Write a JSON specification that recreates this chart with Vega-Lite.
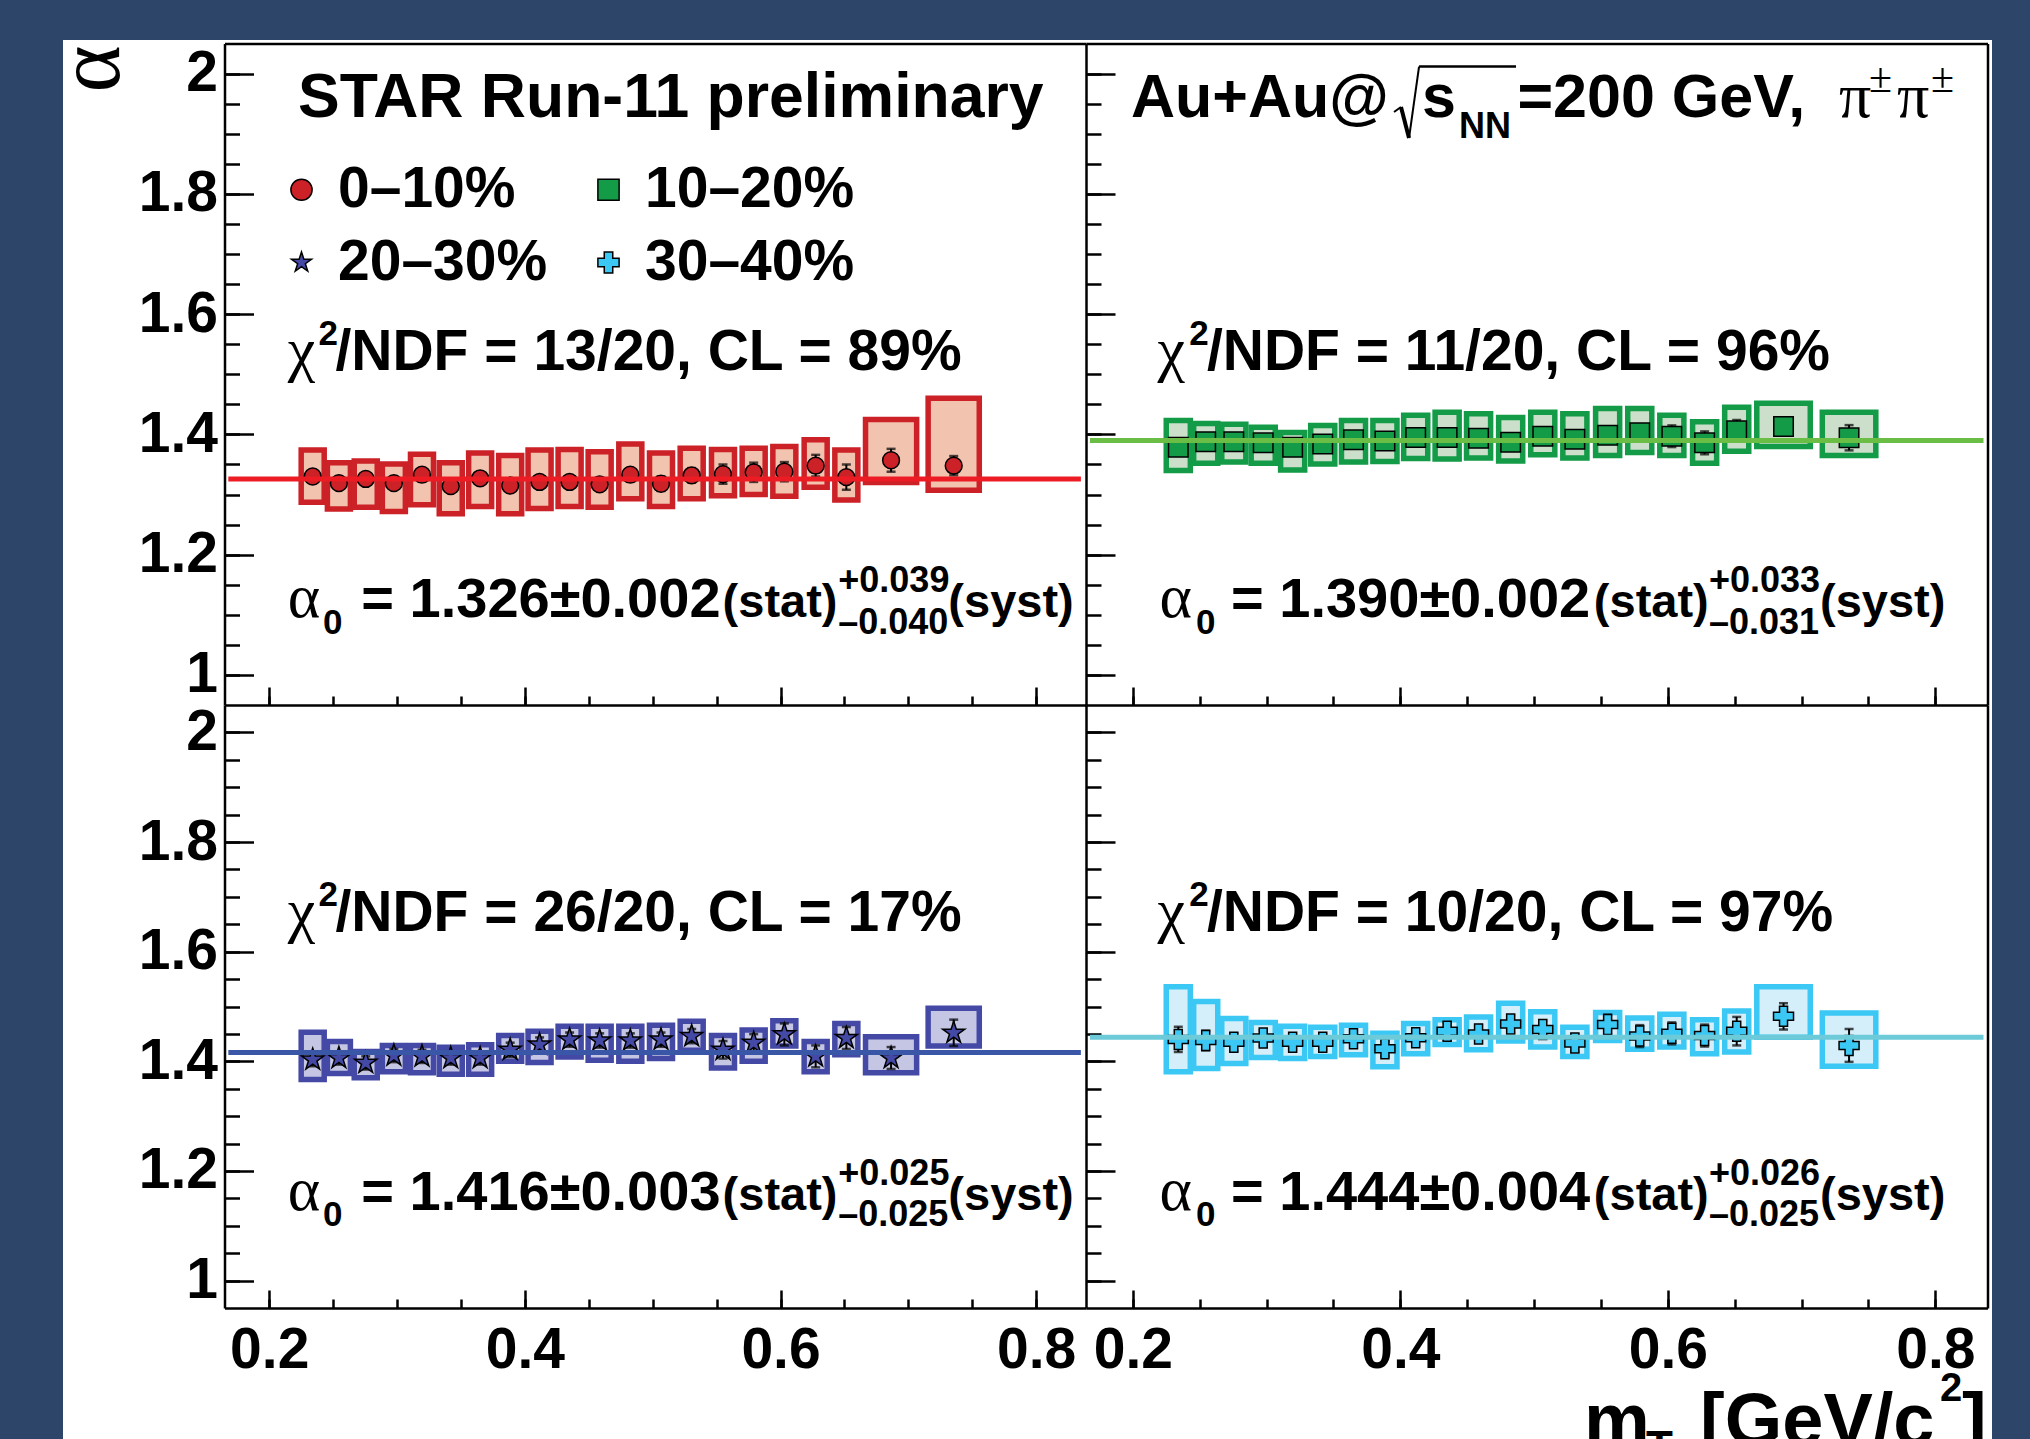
{
"$schema": "https://vega.github.io/schema/vega-lite/v6.json",
"width": 1929, "height": 1399,
"autosize": {"type": "none"},
"padding": {"left": 63, "top": 40, "right": 38, "bottom": 0},
"background": "#2C4568",
"config": {
  "view": {"fill": "white", "stroke": null},
  "axis": {"domainColor": "black", "domainWidth": 2.5, "tickColor": "black", "tickWidth": 2.5, "labelFont": "Liberation Sans", "labelFontWeight": "bold", "labelFontSize": 57, "labelColor": "black", "grid": false, "labelFlush": false, "labelOverlap": false, "labelBound": false},
  "text": {"font": "Liberation Sans", "fontWeight": "bold", "color": "black", "align": "left", "baseline": "alphabetic"}
},
"datasets": {
  "p1": [
    {"c":"0–10%","m":0.234,"l":0.225,"h":0.243,"a":1.330,"lo":1.287,"hi":1.374,"e":0.01},
    {"c":"0–10%","m":0.2545,"l":0.2455,"h":0.2635,"a":1.319,"lo":1.276,"hi":1.353,"e":0.01},
    {"c":"0–10%","m":0.2755,"l":0.2665,"h":0.2845,"a":1.326,"lo":1.279,"hi":1.356,"e":0.01},
    {"c":"0–10%","m":0.2975,"l":0.2885,"h":0.3065,"a":1.319,"lo":1.272,"hi":1.351,"e":0.01},
    {"c":"0–10%","m":0.3195,"l":0.3105,"h":0.3285,"a":1.333,"lo":1.283,"hi":1.367,"e":0.01},
    {"c":"0–10%","m":0.342,"l":0.333,"h":0.351,"a":1.314,"lo":1.268,"hi":1.353,"e":0.01},
    {"c":"0–10%","m":0.365,"l":0.356,"h":0.374,"a":1.327,"lo":1.280,"hi":1.369,"e":0.01},
    {"c":"0–10%","m":0.3885,"l":0.3795,"h":0.3975,"a":1.315,"lo":1.268,"hi":1.365,"e":0.01},
    {"c":"0–10%","m":0.4115,"l":0.4025,"h":0.4205,"a":1.321,"lo":1.277,"hi":1.374,"e":0.01},
    {"c":"0–10%","m":0.435,"l":0.426,"h":0.444,"a":1.321,"lo":1.280,"hi":1.375,"e":0.01},
    {"c":"0–10%","m":0.4585,"l":0.4495,"h":0.4675,"a":1.317,"lo":1.279,"hi":1.371,"e":0.01},
    {"c":"0–10%","m":0.4825,"l":0.4735,"h":0.4915,"a":1.333,"lo":1.293,"hi":1.384,"e":0.01},
    {"c":"0–10%","m":0.5065,"l":0.4975,"h":0.5155,"a":1.318,"lo":1.280,"hi":1.369,"e":0.012},
    {"c":"0–10%","m":0.5305,"l":0.5215,"h":0.5395,"a":1.332,"lo":1.293,"hi":1.377,"e":0.012},
    {"c":"0–10%","m":0.555,"l":0.546,"h":0.564,"a":1.334,"lo":1.298,"hi":1.375,"e":0.016},
    {"c":"0–10%","m":0.579,"l":0.570,"h":0.588,"a":1.337,"lo":1.300,"hi":1.377,"e":0.016},
    {"c":"0–10%","m":0.603,"l":0.594,"h":0.612,"a":1.338,"lo":1.297,"hi":1.380,"e":0.016},
    {"c":"0–10%","m":0.6275,"l":0.6185,"h":0.6365,"a":1.348,"lo":1.312,"hi":1.391,"e":0.018},
    {"c":"0–10%","m":0.6515,"l":0.6425,"h":0.6605,"a":1.329,"lo":1.291,"hi":1.374,"e":0.021},
    {"c":"0–10%","m":0.6865,"l":0.6665,"h":0.7065,"a":1.357,"lo":1.320,"hi":1.425,"e":0.019},
    {"c":"0–10%","m":0.7355,"l":0.7155,"h":0.7555,"a":1.348,"lo":1.307,"hi":1.460,"e":0.016}
  ],
  "p2": [
    {"c":"10–20%","m":0.234,"l":0.225,"h":0.243,"a":1.3785,"lo":1.340,"hi":1.423,"e":0.01},
    {"c":"10–20%","m":0.2545,"l":0.2455,"h":0.2635,"a":1.388,"lo":1.352,"hi":1.418,"e":0.01},
    {"c":"10–20%","m":0.2755,"l":0.2665,"h":0.2845,"a":1.388,"lo":1.354,"hi":1.417,"e":0.01},
    {"c":"10–20%","m":0.2975,"l":0.2885,"h":0.3065,"a":1.386,"lo":1.352,"hi":1.412,"e":0.01},
    {"c":"10–20%","m":0.3195,"l":0.3105,"h":0.3285,"a":1.3785,"lo":1.341,"hi":1.403,"e":0.01},
    {"c":"10–20%","m":0.342,"l":0.333,"h":0.351,"a":1.384,"lo":1.351,"hi":1.415,"e":0.01},
    {"c":"10–20%","m":0.365,"l":0.356,"h":0.374,"a":1.391,"lo":1.354,"hi":1.423,"e":0.01},
    {"c":"10–20%","m":0.3885,"l":0.3795,"h":0.3975,"a":1.389,"lo":1.355,"hi":1.423,"e":0.01},
    {"c":"10–20%","m":0.4115,"l":0.4025,"h":0.4205,"a":1.395,"lo":1.360,"hi":1.432,"e":0.01},
    {"c":"10–20%","m":0.435,"l":0.426,"h":0.444,"a":1.395,"lo":1.359,"hi":1.437,"e":0.01},
    {"c":"10–20%","m":0.4585,"l":0.4495,"h":0.4675,"a":1.3935,"lo":1.361,"hi":1.4345,"e":0.01},
    {"c":"10–20%","m":0.4825,"l":0.4735,"h":0.4915,"a":1.387,"lo":1.356,"hi":1.428,"e":0.01},
    {"c":"10–20%","m":0.5065,"l":0.4975,"h":0.5155,"a":1.397,"lo":1.366,"hi":1.437,"e":0.01},
    {"c":"10–20%","m":0.5305,"l":0.5215,"h":0.5395,"a":1.392,"lo":1.361,"hi":1.4345,"e":0.01},
    {"c":"10–20%","m":0.555,"l":0.546,"h":0.564,"a":1.3985,"lo":1.365,"hi":1.443,"e":0.012},
    {"c":"10–20%","m":0.579,"l":0.570,"h":0.588,"a":1.403,"lo":1.370,"hi":1.443,"e":0.012},
    {"c":"10–20%","m":0.603,"l":0.594,"h":0.612,"a":1.397,"lo":1.365,"hi":1.432,"e":0.018},
    {"c":"10–20%","m":0.6275,"l":0.6185,"h":0.6365,"a":1.386,"lo":1.352,"hi":1.421,"e":0.019},
    {"c":"10–20%","m":0.6515,"l":0.6425,"h":0.6605,"a":1.406,"lo":1.372,"hi":1.445,"e":0.018},
    {"c":"10–20%","m":0.6865,"l":0.6665,"h":0.7065,"a":1.413,"lo":1.380,"hi":1.452,"e":0.012},
    {"c":"10–20%","m":0.7355,"l":0.7155,"h":0.7555,"a":1.3945,"lo":1.365,"hi":1.437,"e":0.021}
  ],
  "p3": [
    {"c":"20–30%","m":0.234,"l":0.225,"h":0.243,"a":1.403,"lo":1.367,"hi":1.453,"e":0.012},
    {"c":"20–30%","m":0.2545,"l":0.2455,"h":0.2635,"a":1.406,"lo":1.378,"hi":1.436,"e":0.012},
    {"c":"20–30%","m":0.2755,"l":0.2665,"h":0.2845,"a":1.397,"lo":1.370,"hi":1.418,"e":0.012},
    {"c":"20–30%","m":0.2975,"l":0.2885,"h":0.3065,"a":1.4105,"lo":1.381,"hi":1.429,"e":0.012},
    {"c":"20–30%","m":0.3195,"l":0.3105,"h":0.3285,"a":1.409,"lo":1.379,"hi":1.429,"e":0.012},
    {"c":"20–30%","m":0.342,"l":0.333,"h":0.351,"a":1.406,"lo":1.3765,"hi":1.4255,"e":0.012},
    {"c":"20–30%","m":0.365,"l":0.356,"h":0.374,"a":1.406,"lo":1.3765,"hi":1.430,"e":0.012},
    {"c":"20–30%","m":0.3885,"l":0.3795,"h":0.3975,"a":1.421,"lo":1.400,"hi":1.447,"e":0.013},
    {"c":"20–30%","m":0.4115,"l":0.4025,"h":0.4205,"a":1.4305,"lo":1.398,"hi":1.455,"e":0.013},
    {"c":"20–30%","m":0.435,"l":0.426,"h":0.444,"a":1.4395,"lo":1.408,"hi":1.464,"e":0.013},
    {"c":"20–30%","m":0.4585,"l":0.4495,"h":0.4675,"a":1.438,"lo":1.402,"hi":1.464,"e":0.013},
    {"c":"20–30%","m":0.4825,"l":0.4735,"h":0.4915,"a":1.438,"lo":1.400,"hi":1.464,"e":0.013},
    {"c":"20–30%","m":0.5065,"l":0.4975,"h":0.5155,"a":1.4395,"lo":1.405,"hi":1.466,"e":0.013},
    {"c":"20–30%","m":0.5305,"l":0.5215,"h":0.5395,"a":1.446,"lo":1.420,"hi":1.473,"e":0.013},
    {"c":"20–30%","m":0.555,"l":0.546,"h":0.564,"a":1.421,"lo":1.388,"hi":1.447,"e":0.016},
    {"c":"20–30%","m":0.579,"l":0.570,"h":0.588,"a":1.4335,"lo":1.400,"hi":1.457,"e":0.016},
    {"c":"20–30%","m":0.603,"l":0.594,"h":0.612,"a":1.449,"lo":1.428,"hi":1.474,"e":0.02},
    {"c":"20–30%","m":0.6275,"l":0.6185,"h":0.6365,"a":1.409,"lo":1.381,"hi":1.436,"e":0.02},
    {"c":"20–30%","m":0.6515,"l":0.6425,"h":0.6605,"a":1.4425,"lo":1.412,"hi":1.469,"e":0.02},
    {"c":"20–30%","m":0.6865,"l":0.6665,"h":0.7065,"a":1.406,"lo":1.379,"hi":1.445,"e":0.02},
    {"c":"20–30%","m":0.7355,"l":0.7155,"h":0.7555,"a":1.452,"lo":1.428,"hi":1.497,"e":0.024}
  ],
  "p4": [
    {"c":"30–40%","m":0.234,"l":0.225,"h":0.243,"a":1.440,"lo":1.381,"hi":1.536,"e":0.023},
    {"c":"30–40%","m":0.2545,"l":0.2455,"h":0.2635,"a":1.438,"lo":1.387,"hi":1.509,"e":0.018},
    {"c":"30–40%","m":0.2755,"l":0.2665,"h":0.2845,"a":1.435,"lo":1.396,"hi":1.478,"e":0.016},
    {"c":"30–40%","m":0.2975,"l":0.2885,"h":0.3065,"a":1.4425,"lo":1.407,"hi":1.471,"e":0.014},
    {"c":"30–40%","m":0.3195,"l":0.3105,"h":0.3285,"a":1.435,"lo":1.405,"hi":1.464,"e":0.014},
    {"c":"30–40%","m":0.342,"l":0.333,"h":0.351,"a":1.435,"lo":1.409,"hi":1.462,"e":0.014},
    {"c":"30–40%","m":0.365,"l":0.356,"h":0.374,"a":1.441,"lo":1.412,"hi":1.466,"e":0.014},
    {"c":"30–40%","m":0.3885,"l":0.3795,"h":0.3975,"a":1.423,"lo":1.390,"hi":1.451,"e":0.014},
    {"c":"30–40%","m":0.4115,"l":0.4025,"h":0.4205,"a":1.443,"lo":1.414,"hi":1.469,"e":0.014},
    {"c":"30–40%","m":0.435,"l":0.426,"h":0.444,"a":1.455,"lo":1.4305,"hi":1.476,"e":0.016},
    {"c":"30–40%","m":0.4585,"l":0.4495,"h":0.4675,"a":1.450,"lo":1.421,"hi":1.481,"e":0.016},
    {"c":"30–40%","m":0.4825,"l":0.4735,"h":0.4915,"a":1.468,"lo":1.437,"hi":1.506,"e":0.016},
    {"c":"30–40%","m":0.5065,"l":0.4975,"h":0.5155,"a":1.458,"lo":1.426,"hi":1.4905,"e":0.016},
    {"c":"30–40%","m":0.5305,"l":0.5215,"h":0.5395,"a":1.4335,"lo":1.409,"hi":1.462,"e":0.016},
    {"c":"30–40%","m":0.555,"l":0.546,"h":0.564,"a":1.467,"lo":1.438,"hi":1.489,"e":0.018},
    {"c":"30–40%","m":0.579,"l":0.570,"h":0.588,"a":1.446,"lo":1.422,"hi":1.479,"e":0.02},
    {"c":"30–40%","m":0.603,"l":0.594,"h":0.612,"a":1.451,"lo":1.426,"hi":1.486,"e":0.02},
    {"c":"30–40%","m":0.6275,"l":0.6185,"h":0.6365,"a":1.447,"lo":1.414,"hi":1.476,"e":0.02},
    {"c":"30–40%","m":0.6515,"l":0.6425,"h":0.6605,"a":1.455,"lo":1.417,"hi":1.492,"e":0.026},
    {"c":"30–40%","m":0.6865,"l":0.6665,"h":0.7065,"a":1.482,"lo":1.444,"hi":1.536,"e":0.024},
    {"c":"30–40%","m":0.7355,"l":0.7155,"h":0.7555,"a":1.429,"lo":1.391,"hi":1.488,"e":0.03}
  ],
  "f1": [{"c":"0–10%","alpha0":1.326,"chi":"/NDF = 13/20, CL = 89%","atxt":"= 1.326±0.002","sp":"+0.039","sm":"–0.040"}],
  "f2": [{"c":"10–20%","alpha0":1.390,"chi":"/NDF = 11/20, CL = 96%","atxt":"= 1.390±0.002","sp":"+0.033","sm":"–0.031"}],
  "f3": [{"c":"20–30%","alpha0":1.416,"chi":"/NDF = 26/20, CL = 17%","atxt":"= 1.416±0.003","sp":"+0.025","sm":"–0.025"}],
  "f4": [{"c":"30–40%","alpha0":1.444,"chi":"/NDF = 10/20, CL = 97%","atxt":"= 1.444±0.004","sp":"+0.026","sm":"–0.025"}]
},
"resolve": {"scale": {"x": "independent", "y": "independent"}, "axis": {"x": "independent", "y": "independent"}},
"layer": [
 {
  "resolve": {"axis": {"x": "independent", "y": "independent"}},
  "layer": [
   {"data": {"name": "p1"}, "mark": {"type": "rect", "fill": "#F2C3AE", "stroke": "#CB2127", "strokeWidth": 5.5},
    "encoding": {
     "x": {"field": "l", "type": "quantitative", "scale": {"domain": [0.165, 0.839], "range": [161.5, 1023], "nice": false, "zero": false},
           "axis": {"orient": "bottom", "offset": -734, "values": [0.2,0.4,0.6,0.8], "tickSize": -18, "labels": false, "title": null}},
     "x2": {"field": "h"},
     "y": {"field": "lo", "type": "quantitative", "scale": {"domain": [0.95, 2.05], "range": [665, 3.6], "nice": false, "zero": false},
           "axis": {"orient": "left", "offset": -161.5, "values": [1,1.2,1.4,1.6,1.8,2], "tickSize": -29, "labelPadding": 36, "format": "~g", "title": null}},
     "y2": {"field": "hi"}}},
   {"data": {"name": "p1"}, "mark": {"type": "errorbar", "color": "black", "thickness": 2, "ticks": {"size": 9, "thickness": 2.5}},
    "encoding": {"x": {"field": "m", "type": "quantitative", "axis": null}, "y": {"field": "a", "type": "quantitative", "axis": null}, "yError": {"field": "e"}}},
   {"data": {"name": "p1"}, "mark": {"type": "point", "filled": true, "size": 283, "stroke": "black", "strokeWidth": 1.5, "opacity": 1},
    "encoding": {
     "x": {"field": "m", "type": "quantitative", "axis": {"orient": "bottom", "offset": -734, "values": [0.2,0.25,0.3,0.35,0.4,0.45,0.5,0.55,0.6,0.65,0.7,0.75,0.8], "tickSize": -9, "labels": false, "domain": false, "title": null}},
     "y": {"field": "a", "type": "quantitative", "axis": {"orient": "left", "offset": -161.5, "values": [1,1.05,1.1,1.15,1.2,1.25,1.3,1.35,1.4,1.45,1.5,1.55,1.6,1.65,1.7,1.75,1.8,1.85,1.9,1.95,2], "tickSize": -15, "labels": false, "domain": false, "title": null}},
     "color": {"field": "c", "type": "nominal", "scale": {"domain": ["0–10%","10–20%","20–30%","30–40%"], "range": ["#CB2127","#139B48","#4549A6","#3CC8F4"]},
               "legend": {"title": null, "orient": "none", "direction": "horizontal", "legendX": 210, "legendY": 121, "columns": 2, "columnPadding": 32, "rowPadding": 15, "labelFontSize": 57, "labelFont": "Liberation Sans", "labelFontWeight": "bold", "labelColor": "black", "labelLimit": 500, "labelOffset": 8, "symbolSize": 450, "symbolStrokeColor": "black", "symbolStrokeWidth": 1.5, "symbolOpacity": 1}},
     "shape": {"field": "c", "type": "nominal", "scale": {"domain": ["0–10%","10–20%","20–30%","30–40%"], "range": ["circle","square","M0,-1L0.2245,-0.309L0.9511,-0.309L0.3633,0.118L0.5878,0.809L0,0.382L-0.5878,0.809L-0.3633,0.118L-0.9511,-0.309L-0.2245,-0.309Z","cross"]},
               "legend": {"title": null, "orient": "none", "direction": "horizontal", "legendX": 210, "legendY": 121, "columns": 2, "columnPadding": 32, "rowPadding": 15, "labelFontSize": 57, "labelFont": "Liberation Sans", "labelFontWeight": "bold", "labelColor": "black", "labelLimit": 500, "labelOffset": 8, "symbolSize": 450, "symbolStrokeColor": "black", "symbolStrokeWidth": 1.5, "symbolOpacity": 1}}}},
   {"data": {"name": "f1"}, "mark": {"type": "rule", "color": "#ED1C24", "strokeWidth": 5},
    "encoding": {"x": {"datum": 0.168, "type": "quantitative", "axis": {"orient": "top", "offset": -3.6, "ticks": false, "labels": false, "title": null}}, "x2": {"datum": 0.835}, "y": {"field": "alpha0", "type": "quantitative", "axis": null}}},
   {"data": {"name": "f1"}, "mark": {"type": "text", "text": "STAR Run-11 preliminary", "fontSize": 62.5},
    "encoding": {"x": {"datum": 0.2225, "type": "quantitative", "axis": null}, "y": {"datum": 1.9279, "type": "quantitative", "axis": null}}},
   {"data": {"name": "f1"}, "mark": {"type": "text", "text": "α", "font": "Liberation Serif", "fontWeight": "normal", "fontSize": 90, "angle": 270, "align": "center"},
    "encoding": {"x": {"datum": 0.0825, "type": "quantitative", "axis": null}, "y": {"datum": 2.0078, "type": "quantitative", "axis": null}}},
   {"data": {"name": "f1"}, "mark": {"type": "text", "text": "χ", "font": "Liberation Serif", "fontWeight": "normal", "fontSize": 62},
    "encoding": {"x": {"datum": 0.2144, "type": "quantitative", "axis": null}, "y": {"datum": 1.5078, "type": "quantitative", "axis": null}}},
   {"data": {"name": "f1"}, "mark": {"type": "text", "text": "2", "fontSize": 35},
    "encoding": {"x": {"datum": 0.2385, "type": "quantitative", "axis": null}, "y": {"datum": 1.5488, "type": "quantitative", "axis": null}}},
   {"data": {"name": "f1"}, "mark": {"type": "text", "fontSize": 57},
    "encoding": {"x": {"datum": 0.2518, "type": "quantitative", "axis": null}, "y": {"datum": 1.5078, "type": "quantitative", "axis": null}, "text": {"field": "chi"}}},
   {"data": {"name": "f1"}, "mark": {"type": "text", "text": "α", "font": "Liberation Serif", "fontWeight": "normal", "fontSize": 62},
    "encoding": {"x": {"datum": 0.2144, "type": "quantitative", "axis": null}, "y": {"datum": 1.0956, "type": "quantitative", "axis": null}}},
   {"data": {"name": "f1"}, "mark": {"type": "text", "text": "0", "fontSize": 35},
    "encoding": {"x": {"datum": 0.2421, "type": "quantitative", "axis": null}, "y": {"datum": 1.0688, "type": "quantitative", "axis": null}}},
   {"data": {"name": "f1"}, "mark": {"type": "text", "fontSize": 56},
    "encoding": {"x": {"datum": 0.2720, "type": "quantitative", "axis": null}, "y": {"datum": 1.0956, "type": "quantitative", "axis": null}, "text": {"field": "atxt"}}},
   {"data": {"name": "f1"}, "mark": {"type": "text", "text": "(stat)", "fontSize": 47},
    "encoding": {"x": {"datum": 0.5547, "type": "quantitative", "axis": null}, "y": {"datum": 1.0956, "type": "quantitative", "axis": null}}},
   {"data": {"name": "f1"}, "mark": {"type": "text", "fontSize": 36},
    "encoding": {"x": {"datum": 0.6452, "type": "quantitative", "axis": null}, "y": {"datum": 1.1375, "type": "quantitative", "axis": null}, "text": {"field": "sp"}}},
   {"data": {"name": "f1"}, "mark": {"type": "text", "fontSize": 36},
    "encoding": {"x": {"datum": 0.6452, "type": "quantitative", "axis": null}, "y": {"datum": 1.0688, "type": "quantitative", "axis": null}, "text": {"field": "sm"}}},
   {"data": {"name": "f1"}, "mark": {"type": "text", "text": "(syst)", "fontSize": 47},
    "encoding": {"x": {"datum": 0.7313, "type": "quantitative", "axis": null}, "y": {"datum": 1.0956, "type": "quantitative", "axis": null}}}
  ]
 },
 {
  "resolve": {"axis": {"x": "independent", "y": "independent"}},
  "layer": [
   {"data": {"name": "p2"}, "mark": {"type": "rect", "fill": "#CCDFCB", "stroke": "#139B48", "strokeWidth": 5.5},
    "encoding": {
     "x": {"field": "l", "type": "quantitative", "scale": {"domain": [0.165, 0.839], "range": [1023, 1924.5], "nice": false, "zero": false},
           "axis": {"orient": "bottom", "offset": -734, "values": [0.2,0.4,0.6,0.8], "tickSize": -18, "labels": false, "title": null}},
     "x2": {"field": "h"},
     "y": {"field": "lo", "type": "quantitative", "scale": {"domain": [0.95, 2.05], "range": [665, 3.6], "nice": false, "zero": false},
           "axis": {"orient": "left", "offset": -1023, "values": [1,1.2,1.4,1.6,1.8,2], "tickSize": -29, "labels": false, "title": null}},
     "y2": {"field": "hi"}}},
   {"data": {"name": "p2"}, "mark": {"type": "errorbar", "color": "black", "thickness": 2, "ticks": {"size": 9, "thickness": 2.5}},
    "encoding": {"x": {"field": "m", "type": "quantitative", "axis": null}, "y": {"field": "a", "type": "quantitative", "axis": null}, "yError": {"field": "e"}}},
   {"data": {"name": "p2"}, "mark": {"type": "point", "filled": true, "size": 380, "stroke": "black", "strokeWidth": 1.5, "opacity": 1},
    "encoding": {
     "x": {"field": "m", "type": "quantitative", "axis": {"orient": "bottom", "offset": -734, "values": [0.2,0.25,0.3,0.35,0.4,0.45,0.5,0.55,0.6,0.65,0.7,0.75,0.8], "tickSize": -9, "labels": false, "domain": false, "title": null}},
     "y": {"field": "a", "type": "quantitative", "axis": {"orient": "left", "offset": -1023, "values": [1,1.05,1.1,1.15,1.2,1.25,1.3,1.35,1.4,1.45,1.5,1.55,1.6,1.65,1.7,1.75,1.8,1.85,1.9,1.95,2], "tickSize": -15, "labels": false, "domain": false, "title": null}},
     "color": {"field": "c", "type": "nominal", "scale": {"domain": ["0–10%","10–20%","20–30%","30–40%"], "range": ["#CB2127","#139B48","#4549A6","#3CC8F4"]}},
     "shape": {"field": "c", "type": "nominal", "scale": {"domain": ["0–10%","10–20%","20–30%","30–40%"], "range": ["circle","square","M0,-1L0.2245,-0.309L0.9511,-0.309L0.3633,0.118L0.5878,0.809L0,0.382L-0.5878,0.809L-0.3633,0.118L-0.9511,-0.309L-0.2245,-0.309Z","cross"]}}}},
   {"data": {"name": "f2"}, "mark": {"type": "rule", "color": "#6ABD45", "strokeWidth": 5},
    "encoding": {"x": {"datum": 0.168, "type": "quantitative", "axis": {"orient": "top", "offset": -3.6, "ticks": false, "labels": false, "title": null}}, "x2": {"datum": 0.836},
                 "y": {"field": "alpha0", "type": "quantitative", "axis": {"orient": "right", "offset": -4.5, "ticks": false, "labels": false, "title": null}}}},
   {"data": {"name": "f2"}, "mark": {"type": "text", "text": "Au+Au@", "fontSize": 61},
    "encoding": {"x": {"datum": 0.1986, "type": "quantitative", "axis": null}, "y": {"datum": 1.9279, "type": "quantitative", "axis": null}}},
   {"data": {"name": "f2"}, "mark": {"type": "rule", "color": "black", "strokeWidth": 2},
    "encoding": {"x": {"datum": 0.3953, "type": "quantitative", "axis": null}, "x2": {"datum": 0.4005}, "y": {"datum": 1.9362, "type": "quantitative", "axis": null}, "y2": {"datum": 1.9446}}},
   {"data": {"name": "f2"}, "mark": {"type": "rule", "color": "black", "strokeWidth": 4},
    "encoding": {"x": {"datum": 0.4005, "type": "quantitative", "axis": null}, "x2": {"datum": 0.4065}, "y": {"datum": 1.9446, "type": "quantitative", "axis": null}, "y2": {"datum": 1.893}}},
   {"data": {"name": "f2"}, "mark": {"type": "rule", "color": "black", "strokeWidth": 2},
    "encoding": {"x": {"datum": 0.4065, "type": "quantitative", "axis": null}, "x2": {"datum": 0.414}, "y": {"datum": 1.893, "type": "quantitative", "axis": null}, "y2": {"datum": 2.0118}}},
   {"data": {"name": "f2"}, "mark": {"type": "rule", "color": "black", "strokeWidth": 2.5},
    "encoding": {"x": {"datum": 0.414, "type": "quantitative", "axis": null}, "x2": {"datum": 0.4865}, "y": {"datum": 2.0118, "type": "quantitative", "axis": null}}},
   {"data": {"name": "f2"}, "mark": {"type": "text", "text": "s", "fontSize": 61},
    "encoding": {"x": {"datum": 0.4162, "type": "quantitative", "axis": null}, "y": {"datum": 1.9279, "type": "quantitative", "axis": null}}},
   {"data": {"name": "f2"}, "mark": {"type": "text", "text": "NN", "fontSize": 36},
    "encoding": {"x": {"datum": 0.4439, "type": "quantitative", "axis": null}, "y": {"datum": 1.8935, "type": "quantitative", "axis": null}}},
   {"data": {"name": "f2"}, "mark": {"type": "text", "text": "=200 GeV,", "fontSize": 61},
    "encoding": {"x": {"datum": 0.4876, "type": "quantitative", "axis": null}, "y": {"datum": 1.9279, "type": "quantitative", "axis": null}}},
   {"data": {"name": "f2"}, "mark": {"type": "text", "text": "π", "font": "Liberation Serif", "fontWeight": "normal", "fontSize": 64},
    "encoding": {"x": {"datum": 0.728, "type": "quantitative", "axis": null}, "y": {"datum": 1.9279, "type": "quantitative", "axis": null}}},
   {"data": {"name": "f2"}, "mark": {"type": "text", "text": "±", "font": "Liberation Serif", "fontWeight": "normal", "fontSize": 42},
    "encoding": {"x": {"datum": 0.7504, "type": "quantitative", "axis": null}, "y": {"datum": 1.9695, "type": "quantitative", "axis": null}}},
   {"data": {"name": "f2"}, "mark": {"type": "text", "text": "π", "font": "Liberation Serif", "fontWeight": "normal", "fontSize": 64},
    "encoding": {"x": {"datum": 0.7713, "type": "quantitative", "axis": null}, "y": {"datum": 1.9279, "type": "quantitative", "axis": null}}},
   {"data": {"name": "f2"}, "mark": {"type": "text", "text": "±", "font": "Liberation Serif", "fontWeight": "normal", "fontSize": 42},
    "encoding": {"x": {"datum": 0.7968, "type": "quantitative", "axis": null}, "y": {"datum": 1.9695, "type": "quantitative", "axis": null}}},
   {"data": {"name": "f2"}, "mark": {"type": "text", "text": "χ", "font": "Liberation Serif", "fontWeight": "normal", "fontSize": 62},
    "encoding": {"x": {"datum": 0.2185, "type": "quantitative", "axis": null}, "y": {"datum": 1.5078, "type": "quantitative", "axis": null}}},
   {"data": {"name": "f2"}, "mark": {"type": "text", "text": "2", "fontSize": 35},
    "encoding": {"x": {"datum": 0.2422, "type": "quantitative", "axis": null}, "y": {"datum": 1.5488, "type": "quantitative", "axis": null}}},
   {"data": {"name": "f2"}, "mark": {"type": "text", "fontSize": 57},
    "encoding": {"x": {"datum": 0.2554, "type": "quantitative", "axis": null}, "y": {"datum": 1.5078, "type": "quantitative", "axis": null}, "text": {"field": "chi"}}},
   {"data": {"name": "f2"}, "mark": {"type": "text", "text": "α", "font": "Liberation Serif", "fontWeight": "normal", "fontSize": 62},
    "encoding": {"x": {"datum": 0.2199, "type": "quantitative", "axis": null}, "y": {"datum": 1.0956, "type": "quantitative", "axis": null}}},
   {"data": {"name": "f2"}, "mark": {"type": "text", "text": "0", "fontSize": 35},
    "encoding": {"x": {"datum": 0.2473, "type": "quantitative", "axis": null}, "y": {"datum": 1.0688, "type": "quantitative", "axis": null}}},
   {"data": {"name": "f2"}, "mark": {"type": "text", "fontSize": 56},
    "encoding": {"x": {"datum": 0.2734, "type": "quantitative", "axis": null}, "y": {"datum": 1.0956, "type": "quantitative", "axis": null}, "text": {"field": "atxt"}}},
   {"data": {"name": "f2"}, "mark": {"type": "text", "text": "(stat)", "fontSize": 47},
    "encoding": {"x": {"datum": 0.5447, "type": "quantitative", "axis": null}, "y": {"datum": 1.0956, "type": "quantitative", "axis": null}}},
   {"data": {"name": "f2"}, "mark": {"type": "text", "fontSize": 36},
    "encoding": {"x": {"datum": 0.6308, "type": "quantitative", "axis": null}, "y": {"datum": 1.1375, "type": "quantitative", "axis": null}, "text": {"field": "sp"}}},
   {"data": {"name": "f2"}, "mark": {"type": "text", "fontSize": 36},
    "encoding": {"x": {"datum": 0.6308, "type": "quantitative", "axis": null}, "y": {"datum": 1.0688, "type": "quantitative", "axis": null}, "text": {"field": "sm"}}},
   {"data": {"name": "f2"}, "mark": {"type": "text", "text": "(syst)", "fontSize": 47},
    "encoding": {"x": {"datum": 0.7138, "type": "quantitative", "axis": null}, "y": {"datum": 1.0956, "type": "quantitative", "axis": null}}}
  ]
 },
 {
  "resolve": {"axis": {"x": "independent", "y": "independent"}},
  "layer": [
   {"data": {"name": "p3"}, "mark": {"type": "rect", "fill": "#C4C6E3", "stroke": "#4549A6", "strokeWidth": 5.5},
    "encoding": {
     "x": {"field": "l", "type": "quantitative", "scale": {"domain": [0.165, 0.839], "range": [161.5, 1023], "nice": false, "zero": false},
           "axis": {"orient": "bottom", "offset": -131, "values": [0.2,0.4,0.6,0.8], "tickSize": -18, "labelPadding": 32, "format": "~g", "title": null}},
     "x2": {"field": "h"},
     "y": {"field": "lo", "type": "quantitative", "scale": {"domain": [0.95, 2.05], "range": [1268, 665], "nice": false, "zero": false},
           "axis": {"orient": "left", "offset": -161.5, "values": [1,1.2,1.4,1.6,1.8,2], "tickSize": -29, "labelPadding": 36, "format": "~g", "title": null}},
     "y2": {"field": "hi"}}},
   {"data": {"name": "p3"}, "mark": {"type": "errorbar", "color": "black", "thickness": 2, "ticks": {"size": 9, "thickness": 2.5}},
    "encoding": {"x": {"field": "m", "type": "quantitative", "axis": null}, "y": {"field": "a", "type": "quantitative", "axis": null}, "yError": {"field": "e"}}},
   {"data": {"name": "p3"}, "mark": {"type": "point", "filled": true, "size": 540, "stroke": "black", "strokeWidth": 1.5, "opacity": 1},
    "encoding": {
     "x": {"field": "m", "type": "quantitative", "axis": {"orient": "bottom", "offset": -131, "values": [0.2,0.25,0.3,0.35,0.4,0.45,0.5,0.55,0.6,0.65,0.7,0.75,0.8], "tickSize": -9, "labels": false, "domain": false, "title": null}},
     "y": {"field": "a", "type": "quantitative", "axis": {"orient": "left", "offset": -161.5, "values": [1,1.05,1.1,1.15,1.2,1.25,1.3,1.35,1.4,1.45,1.5,1.55,1.6,1.65,1.7,1.75,1.8,1.85,1.9,1.95,2], "tickSize": -15, "labels": false, "domain": false, "title": null}},
     "color": {"field": "c", "type": "nominal", "scale": {"domain": ["0–10%","10–20%","20–30%","30–40%"], "range": ["#CB2127","#139B48","#4549A6","#3CC8F4"]}},
     "shape": {"field": "c", "type": "nominal", "scale": {"domain": ["0–10%","10–20%","20–30%","30–40%"], "range": ["circle","square","M0,-1L0.2245,-0.309L0.9511,-0.309L0.3633,0.118L0.5878,0.809L0,0.382L-0.5878,0.809L-0.3633,0.118L-0.9511,-0.309L-0.2245,-0.309Z","cross"]}}}},
   {"data": {"name": "f3"}, "mark": {"type": "rule", "color": "#3A57A7", "strokeWidth": 5},
    "encoding": {"x": {"datum": 0.168, "type": "quantitative", "axis": null}, "x2": {"datum": 0.835}, "y": {"field": "alpha0", "type": "quantitative", "axis": null}}},
   {"data": {"name": "f3"}, "mark": {"type": "text", "text": "χ", "font": "Liberation Serif", "fontWeight": "normal", "fontSize": 62},
    "encoding": {"x": {"datum": 0.2144, "type": "quantitative", "axis": null}, "y": {"datum": 1.6383, "type": "quantitative", "axis": null}}},
   {"data": {"name": "f3"}, "mark": {"type": "text", "text": "2", "fontSize": 35},
    "encoding": {"x": {"datum": 0.2385, "type": "quantitative", "axis": null}, "y": {"datum": 1.6832, "type": "quantitative", "axis": null}}},
   {"data": {"name": "f3"}, "mark": {"type": "text", "fontSize": 57},
    "encoding": {"x": {"datum": 0.2518, "type": "quantitative", "axis": null}, "y": {"datum": 1.6383, "type": "quantitative", "axis": null}, "text": {"field": "chi"}}},
   {"data": {"name": "f3"}, "mark": {"type": "text", "text": "α", "font": "Liberation Serif", "fontWeight": "normal", "fontSize": 62},
    "encoding": {"x": {"datum": 0.2144, "type": "quantitative", "axis": null}, "y": {"datum": 1.1288, "type": "quantitative", "axis": null}}},
   {"data": {"name": "f3"}, "mark": {"type": "text", "text": "0", "fontSize": 35},
    "encoding": {"x": {"datum": 0.2421, "type": "quantitative", "axis": null}, "y": {"datum": 1.0994, "type": "quantitative", "axis": null}}},
   {"data": {"name": "f3"}, "mark": {"type": "text", "fontSize": 56},
    "encoding": {"x": {"datum": 0.2720, "type": "quantitative", "axis": null}, "y": {"datum": 1.1288, "type": "quantitative", "axis": null}, "text": {"field": "atxt"}}},
   {"data": {"name": "f3"}, "mark": {"type": "text", "text": "(stat)", "fontSize": 47},
    "encoding": {"x": {"datum": 0.5547, "type": "quantitative", "axis": null}, "y": {"datum": 1.1288, "type": "quantitative", "axis": null}}},
   {"data": {"name": "f3"}, "mark": {"type": "text", "fontSize": 36},
    "encoding": {"x": {"datum": 0.6452, "type": "quantitative", "axis": null}, "y": {"datum": 1.1744, "type": "quantitative", "axis": null}, "text": {"field": "sp"}}},
   {"data": {"name": "f3"}, "mark": {"type": "text", "fontSize": 36},
    "encoding": {"x": {"datum": 0.6452, "type": "quantitative", "axis": null}, "y": {"datum": 1.0994, "type": "quantitative", "axis": null}, "text": {"field": "sm"}}},
   {"data": {"name": "f3"}, "mark": {"type": "text", "text": "(syst)", "fontSize": 47},
    "encoding": {"x": {"datum": 0.7313, "type": "quantitative", "axis": null}, "y": {"datum": 1.1288, "type": "quantitative", "axis": null}}}
  ]
 },
 {
  "resolve": {"axis": {"x": "independent", "y": "independent"}},
  "layer": [
   {"data": {"name": "p4"}, "mark": {"type": "rect", "fill": "#D4EEFA", "stroke": "#3CC8F4", "strokeWidth": 5.5},
    "encoding": {
     "x": {"field": "l", "type": "quantitative", "scale": {"domain": [0.165, 0.839], "range": [1023, 1924.5], "nice": false, "zero": false},
           "axis": {"orient": "bottom", "offset": -131, "values": [0.2,0.4,0.6,0.8], "tickSize": -18, "labelPadding": 32, "format": "~g", "title": null}},
     "x2": {"field": "h"},
     "y": {"field": "lo", "type": "quantitative", "scale": {"domain": [0.95, 2.05], "range": [1268, 665], "nice": false, "zero": false},
           "axis": {"orient": "left", "offset": -1023, "values": [1,1.2,1.4,1.6,1.8,2], "tickSize": -29, "labels": false, "title": null}},
     "y2": {"field": "hi"}}},
   {"data": {"name": "p4"}, "mark": {"type": "errorbar", "color": "black", "thickness": 2, "ticks": {"size": 9, "thickness": 2.5}},
    "encoding": {"x": {"field": "m", "type": "quantitative", "axis": null}, "y": {"field": "a", "type": "quantitative", "axis": null}, "yError": {"field": "e"}}},
   {"data": {"name": "p4"}, "mark": {"type": "point", "filled": true, "size": 400, "stroke": "black", "strokeWidth": 1.5, "opacity": 1},
    "encoding": {
     "x": {"field": "m", "type": "quantitative", "axis": {"orient": "bottom", "offset": -131, "values": [0.2,0.25,0.3,0.35,0.4,0.45,0.5,0.55,0.6,0.65,0.7,0.75,0.8], "tickSize": -9, "labels": false, "domain": false, "title": null}},
     "y": {"field": "a", "type": "quantitative", "axis": {"orient": "left", "offset": -1023, "values": [1,1.05,1.1,1.15,1.2,1.25,1.3,1.35,1.4,1.45,1.5,1.55,1.6,1.65,1.7,1.75,1.8,1.85,1.9,1.95,2], "tickSize": -15, "labels": false, "domain": false, "title": null}},
     "color": {"field": "c", "type": "nominal", "scale": {"domain": ["0–10%","10–20%","20–30%","30–40%"], "range": ["#CB2127","#139B48","#4549A6","#3CC8F4"]}},
     "shape": {"field": "c", "type": "nominal", "scale": {"domain": ["0–10%","10–20%","20–30%","30–40%"], "range": ["circle","square","M0,-1L0.2245,-0.309L0.9511,-0.309L0.3633,0.118L0.5878,0.809L0,0.382L-0.5878,0.809L-0.3633,0.118L-0.9511,-0.309L-0.2245,-0.309Z","cross"]}}}},
   {"data": {"name": "f4"}, "mark": {"type": "rule", "color": "#6DCAD8", "strokeWidth": 5},
    "encoding": {"x": {"datum": 0.168, "type": "quantitative", "axis": null}, "x2": {"datum": 0.836},
                 "y": {"field": "alpha0", "type": "quantitative", "axis": {"orient": "right", "offset": -4.5, "ticks": false, "labels": false, "title": null}}}},
   {"data": {"name": "f4"}, "mark": {"type": "text", "text": "χ", "font": "Liberation Serif", "fontWeight": "normal", "fontSize": 62},
    "encoding": {"x": {"datum": 0.2185, "type": "quantitative", "axis": null}, "y": {"datum": 1.6383, "type": "quantitative", "axis": null}}},
   {"data": {"name": "f4"}, "mark": {"type": "text", "text": "2", "fontSize": 35},
    "encoding": {"x": {"datum": 0.2422, "type": "quantitative", "axis": null}, "y": {"datum": 1.6832, "type": "quantitative", "axis": null}}},
   {"data": {"name": "f4"}, "mark": {"type": "text", "fontSize": 57},
    "encoding": {"x": {"datum": 0.2554, "type": "quantitative", "axis": null}, "y": {"datum": 1.6383, "type": "quantitative", "axis": null}, "text": {"field": "chi"}}},
   {"data": {"name": "f4"}, "mark": {"type": "text", "text": "α", "font": "Liberation Serif", "fontWeight": "normal", "fontSize": 62},
    "encoding": {"x": {"datum": 0.2199, "type": "quantitative", "axis": null}, "y": {"datum": 1.1288, "type": "quantitative", "axis": null}}},
   {"data": {"name": "f4"}, "mark": {"type": "text", "text": "0", "fontSize": 35},
    "encoding": {"x": {"datum": 0.2473, "type": "quantitative", "axis": null}, "y": {"datum": 1.0994, "type": "quantitative", "axis": null}}},
   {"data": {"name": "f4"}, "mark": {"type": "text", "fontSize": 56},
    "encoding": {"x": {"datum": 0.2734, "type": "quantitative", "axis": null}, "y": {"datum": 1.1288, "type": "quantitative", "axis": null}, "text": {"field": "atxt"}}},
   {"data": {"name": "f4"}, "mark": {"type": "text", "text": "(stat)", "fontSize": 47},
    "encoding": {"x": {"datum": 0.5447, "type": "quantitative", "axis": null}, "y": {"datum": 1.1288, "type": "quantitative", "axis": null}}},
   {"data": {"name": "f4"}, "mark": {"type": "text", "fontSize": 36},
    "encoding": {"x": {"datum": 0.6308, "type": "quantitative", "axis": null}, "y": {"datum": 1.1744, "type": "quantitative", "axis": null}, "text": {"field": "sp"}}},
   {"data": {"name": "f4"}, "mark": {"type": "text", "fontSize": 36},
    "encoding": {"x": {"datum": 0.6308, "type": "quantitative", "axis": null}, "y": {"datum": 1.0994, "type": "quantitative", "axis": null}, "text": {"field": "sm"}}},
   {"data": {"name": "f4"}, "mark": {"type": "text", "text": "(syst)", "fontSize": 47},
    "encoding": {"x": {"datum": 0.7138, "type": "quantitative", "axis": null}, "y": {"datum": 1.1288, "type": "quantitative", "axis": null}}},
   {"data": {"name": "f4"}, "mark": {"type": "text", "text": "m", "fontSize": 74},
    "encoding": {"x": {"datum": 0.5373, "type": "quantitative", "axis": null}, "y": {"datum": 0.7001, "type": "quantitative", "axis": null}}},
   {"data": {"name": "f4"}, "mark": {"type": "text", "text": "T", "fontSize": 44},
    "encoding": {"x": {"datum": 0.5837, "type": "quantitative", "axis": null}, "y": {"datum": 0.6691, "type": "quantitative", "axis": null}}},
   {"data": {"name": "f4"}, "mark": {"type": "text", "text": "[GeV/c", "fontSize": 74},
    "encoding": {"x": {"datum": 0.6241, "type": "quantitative", "axis": null}, "y": {"datum": 0.7001, "type": "quantitative", "axis": null}}},
   {"data": {"name": "f4"}, "mark": {"type": "text", "text": "2", "fontSize": 40},
    "encoding": {"x": {"datum": 0.8035, "type": "quantitative", "axis": null}, "y": {"datum": 0.7804, "type": "quantitative", "axis": null}}},
   {"data": {"name": "f4"}, "mark": {"type": "text", "text": "]", "fontSize": 74},
    "encoding": {"x": {"datum": 0.82, "type": "quantitative", "axis": null}, "y": {"datum": 0.7001, "type": "quantitative", "axis": null}}}
  ]
 }
]
}
